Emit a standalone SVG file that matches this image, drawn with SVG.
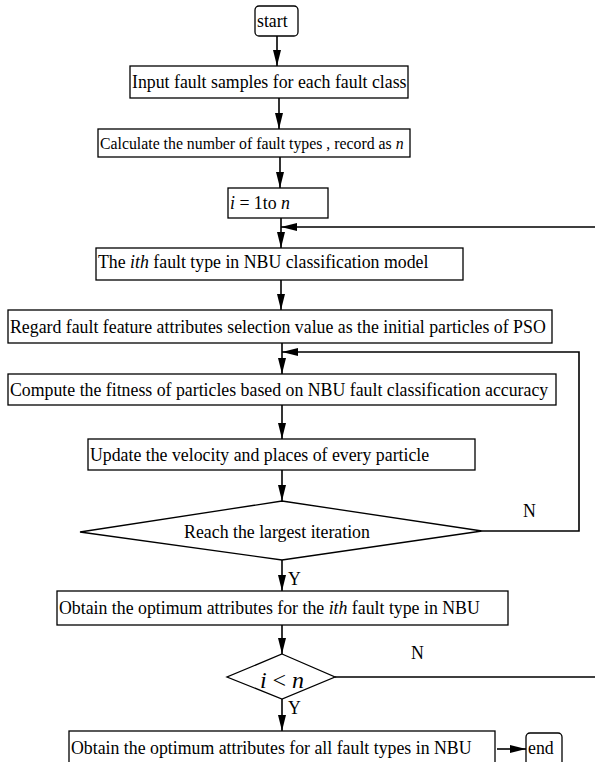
<svg xmlns="http://www.w3.org/2000/svg" width="595" height="762" viewBox="0 0 595 762">
<style>
.box{fill:#fff;stroke:#000;stroke-width:1.3}
.t{font-family:"Liberation Serif","Times New Roman",serif;font-size:17.8px;fill:#000}
.m{font-style:italic}
.c{fill:none;stroke:#000;stroke-width:1.6}
</style>
<defs>
<marker id="ah" viewBox="0 0 16 8" refX="16" refY="4" markerWidth="16" markerHeight="8" markerUnits="userSpaceOnUse" orient="auto">
<path d="M0,0 L16,4 L0,8 Z" fill="#000"/>
</marker>
</defs>
<rect width="595" height="762" fill="#fff"/>
<g id="connectors">
<line class="c" x1="277" y1="36" x2="277" y2="66" marker-end="url(#ah)"/>
<line class="c" x1="279" y1="98" x2="279" y2="129" marker-end="url(#ah)"/>
<line class="c" x1="280" y1="157" x2="280" y2="188" marker-end="url(#ah)"/>
<line class="c" x1="281" y1="218" x2="281" y2="248" marker-end="url(#ah)"/>
<line class="c" x1="281" y1="280" x2="281" y2="310" marker-end="url(#ah)"/>
<line class="c" x1="282" y1="343" x2="282" y2="374" marker-end="url(#ah)"/>
<line class="c" x1="282" y1="405" x2="282" y2="439" marker-end="url(#ah)"/>
<line class="c" x1="282" y1="470" x2="282" y2="501" marker-end="url(#ah)"/>
<line class="c" x1="282" y1="560" x2="282" y2="591" marker-end="url(#ah)"/>
<line class="c" x1="282" y1="625" x2="282" y2="654" marker-end="url(#ah)"/>
<line class="c" x1="282" y1="699" x2="282" y2="731" marker-end="url(#ah)"/>
<line class="c" x1="497" y1="749" x2="526" y2="749" marker-end="url(#ah)"/>
<path class="c" d="M482,531 H579 V352 H282" marker-end="url(#ah)"/>
<path class="c" d="M335,677 H602 V227 H281" marker-end="url(#ah)"/>
<text class="t" x="523" y="517">N</text>
<text class="t" x="288" y="585">Y</text>
<text class="t" x="411" y="659">N</text>
<text class="t" x="288" y="714">Y</text>
</g>
<g id="start">
<rect class="box" x="255" y="6" width="43" height="30" rx="4"/>
<text class="t" x="257" y="27">start</text>
</g>
<g id="input">
<rect class="box" x="130" y="66" width="278" height="32"/>
<text class="t" x="132" y="88">Input fault samples for each fault class</text>
</g>
<g id="calc">
<rect class="box" x="98" y="129" width="312" height="28"/>
<text class="t" x="100" y="149" style="font-size:15.8px">Calculate the number of fault types , record as <tspan class="m">n</tspan></text>
</g>
<g id="loop">
<rect class="box" x="228" y="188" width="100" height="30"/>
<text class="t" x="230" y="209"><tspan class="m">i</tspan> = 1to <tspan class="m">n</tspan></text>
</g>
<g id="ith">
<rect class="box" x="96" y="248" width="367" height="32"/>
<text class="t" x="98" y="268">The <tspan class="m">ith</tspan> fault type in NBU classification model</text>
</g>
<g id="regard">
<rect class="box" x="8" y="310" width="544" height="33"/>
<text class="t" x="10" y="333">Regard fault feature attributes selection value as the initial particles of PSO</text>
</g>
<g id="compute">
<rect class="box" x="8" y="374" width="548" height="31"/>
<text class="t" x="10" y="396">Compute the fitness of particles based on NBU fault classification accuracy</text>
</g>
<g id="update">
<rect class="box" x="88" y="439" width="387" height="31"/>
<text class="t" x="90" y="461">Update the velocity and places of every particle</text>
</g>
<g id="reach">
<polygon class="box" points="282,501 482,531 282,560 80,532"/>
<text class="t" x="277" y="538" text-anchor="middle">Reach the largest iteration</text>
</g>
<g id="obtain">
<rect class="box" x="57" y="591" width="451" height="34"/>
<text class="t" x="59" y="614">Obtain the optimum attributes for the <tspan class="m">ith</tspan> fault type in NBU</text>
</g>
<g id="cond">
<polygon class="box" points="282,654 335,677 282,699 227,677"/>
<text class="t" x="282" y="688" text-anchor="middle" style="font-size:24px"><tspan class="m">i</tspan> &lt; <tspan class="m">n</tspan></text>
</g>
<g id="all">
<rect class="box" x="69" y="731" width="426" height="40"/>
<text class="t" x="71" y="754">Obtain the optimum attributes for all fault types in NBU</text>
</g>
<g id="end">
<rect class="box" x="526" y="733" width="36" height="40" rx="4"/>
<text class="t" x="528" y="754">end</text>
</g>
</svg>
